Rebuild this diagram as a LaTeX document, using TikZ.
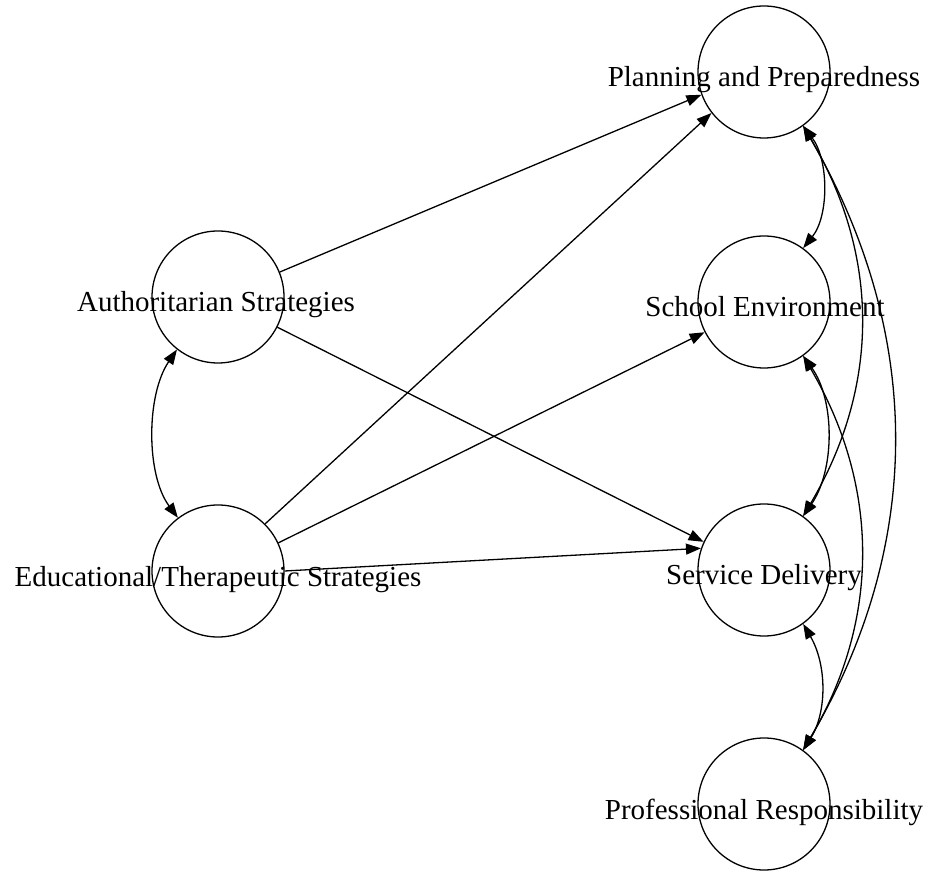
\documentclass[tikz,border=0pt]{standalone}
\usepackage{fontspec}
\setmainfont{Liberation Serif}
\usetikzlibrary{arrows.meta}
\tikzset{
  var/.style={circle, draw, line width=1.3pt, minimum size=132pt, inner sep=0pt},
  lab/.style={anchor=base, font=\fontsize{29}{34}\selectfont, inner sep=0pt},
  tip/.tip={Triangle[length=15pt,width=11pt]},
  regr/.style={line width=1.3pt, -tip},
  cov/.style={line width=1.3pt, tip-tip},
}
\begin{document}
\begin{tikzpicture}[x=1pt,y=1pt]
\useasboundingbox (0,0) rectangle (928,870);
% nodes
\node[var] (P)  at (764,798) {};
\node[var] (S)  at (764,568) {};
\node[var] (SD) at (764,300) {};
\node[var] (PR) at (764,66) {};
\node[var] (A)  at (218,573) {};
\node[var] (E)  at (218,299) {};
% labels
\node[lab] (Pl)  at (764,783) {Planning and Preparedness};
\node[lab] (Sl)  at (765,553) {School Environment};
\node[lab] (SDl) at (764,285) {Service Delivery};
\node[lab] (PRl) at (764,51) {Professional Responsibility};
\node[lab] (Al)  at (216,558) {Authoritarian Strategies};
\node[lab] (El)  at (218,283) {Educational/Therapeutic Strategies};
% regressions
\draw[regr] (A.22) -- (P.200);
\draw[regr] (A.333) -- (SD.155);
\draw[regr] (E.45.6) -- (P.218.8);
\draw[regr] (E.25.8) -- (S.207.8);
\draw[regr] (E.0) -- (SD.161);
% covariances
\draw[cov] (A.232.8) .. controls (146,475) and (146,395) .. (E.127);
\draw[cov] (P.-54) .. controls (829,710) and (829,654) .. (S.54);
\draw[cov] (S.-54) .. controls (835,470) and (835,400) .. (SD.54);
\draw[cov] (SD.-54) .. controls (827,205) and (827,158) .. (PR.54);
\draw[cov] (P.-54) .. controls (880,614) and (880,484) .. (SD.54);
\draw[cov] (S.-54) .. controls (880,383) and (880,250) .. (PR.54);
\draw[cov] (P.-54) .. controls (924,535) and (924,326) .. (PR.54);
\end{tikzpicture}
\end{document}
